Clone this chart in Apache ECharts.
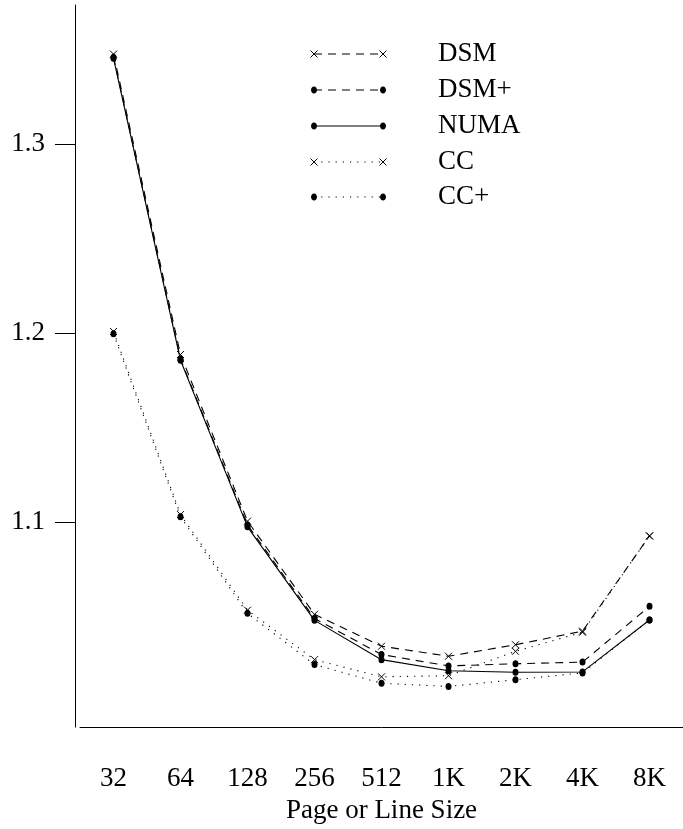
<!DOCTYPE html>
<html><head><meta charset="utf-8">
<script src="https://cdn.jsdelivr.net/npm/echarts@6/dist/echarts.min.js"></script>
<style>html,body{margin:0;padding:0;background:#fff}#c{width:683px;height:829px}</style>
</head><body><div id="c"></div>
<script>
const categories = ['32', '64', '128', '256', '512', '1K', '2K', '4K', '8K'];
const dsm     = [1.3477, 1.1887, 1.1005, 1.0512, 1.0343, 1.0290, 1.0351, 1.0423, 1.0927];
const dsmPlus = [1.3461, 1.1862, 1.0985, 1.0490, 1.0299, 1.0239, 1.0250, 1.0259, 1.0554];
const numa    = [1.3455, 1.1857, 1.0975, 1.0480, 1.0272, 1.0213, 1.0205, 1.0207, 1.0482];
const cc      = [1.2009, 1.1040, 1.0534, 1.0272, 1.0181, 1.0187, 1.0316, 1.0417, 1.0927];
const ccPlus  = [1.1997, 1.1028, 1.0517, 1.0246, 1.0147, 1.0130, 1.0166, 1.0202, 1.0482];
const yTicks = [1.1, 1.2, 1.3];
const xTitle = 'Page or Line Size';

const FONT = 'Liberation Serif';
const FS = 27;
const CROSS = 'path://M0 0L10 10M10 0L0 10';
const DASH = [8, 6];
const DOT = [1.2, 6];

const defs = [
  { name: 'DSM',  data: dsm,     dash: DASH,    mark: 'x' },
  { name: 'DSM+', data: dsmPlus, dash: DASH,    mark: 'o' },
  { name: 'NUMA', data: numa,    dash: 'solid', mark: 'o' },
  { name: 'CC',   data: cc,      dash: DOT,     mark: 'x' },
  { name: 'CC+',  data: ccPlus,  dash: DOT,     mark: 'o' }
];

const series = defs.map(d => ({
  name: d.name, type: 'line', data: d.data, animation: false,
  symbol: d.mark === 'x' ? CROSS : 'circle',
  symbolSize: d.mark === 'x' ? 7 : [6, 7],
  showAllSymbol: true,
  lineStyle: { color: '#000', width: 1.1, type: d.dash },
  itemStyle: d.mark === 'x'
    ? { color: 'none', borderColor: '#000', borderWidth: 1 }
    : { color: '#000', borderWidth: 0 },
  emphasis: { disabled: true }
}));

// legend drawn as graphic (line sample with markers at both ends)
const legY = [54, 90, 126, 162, 197];
const lx1 = 314, lx2 = 383, tx = 438;
const graphic = [];
defs.forEach((d, i) => {
  const y = legY[i];
  graphic.push({ type: 'line', shape: { x1: lx1, y1: y, x2: lx2, y2: y },
    style: { stroke: '#000', lineWidth: 1.1, lineDash: d.dash === 'solid' ? null : d.dash } });
  [lx1, lx2].forEach(x => {
    if (d.mark === 'o') {
      graphic.push({ type: 'ellipse', shape: { cx: x, cy: y, rx: 3, ry: 3.5 }, style: { fill: '#000' } });
    } else {
      graphic.push({ type: 'line', shape: { x1: x - 3.5, y1: y - 3.5, x2: x + 3.5, y2: y + 3.5 }, style: { stroke: '#000', lineWidth: 1 } });
      graphic.push({ type: 'line', shape: { x1: x - 3.5, y1: y + 3.5, x2: x + 3.5, y2: y - 3.5 }, style: { stroke: '#000', lineWidth: 1 } });
    }
  });
  graphic.push({ type: 'text', style: { text: d.name, x: tx, y: y, font: FS + 'px "' + FONT + '"', fill: '#000', verticalAlign: 'middle' } });
});

const chart = echarts.init(document.getElementById('c'));
chart.setOption({
  animation: false,
  backgroundColor: '#fff',
  grid: { left: 80, right: 0, top: 5, bottom: 94, containLabel: false },
  xAxis: {
    type: 'category', data: categories, boundaryGap: true,
    axisLine: { lineStyle: { color: '#000', width: 1 } },
    axisTick: { alignWithLabel: true, length: 19, lineStyle: { color: '#000' } },
    axisLabel: { fontFamily: FONT, fontSize: FS, color: '#000', margin: 38 },
    name: xTitle, nameLocation: 'middle', nameGap: 64,
    nameTextStyle: { fontFamily: FONT, fontSize: FS, color: '#000' },
    splitLine: { show: false }
  },
  yAxis: {
    type: 'value', min: 0.9915, max: 1.3737, offset: 5,
    axisLine: { show: true, lineStyle: { color: '#000', width: 1 } },
    axisTick: { show: true, length: 20, customValues: yTicks, lineStyle: { color: '#000' } },
    axisLabel: { fontFamily: FONT, fontSize: FS, color: '#000', margin: 30, customValues: yTicks,
      formatter: v => Number(v).toFixed(1) },
    splitLine: { show: false }
  },
  series: series,
  graphic: graphic
});
</script></body></html>
